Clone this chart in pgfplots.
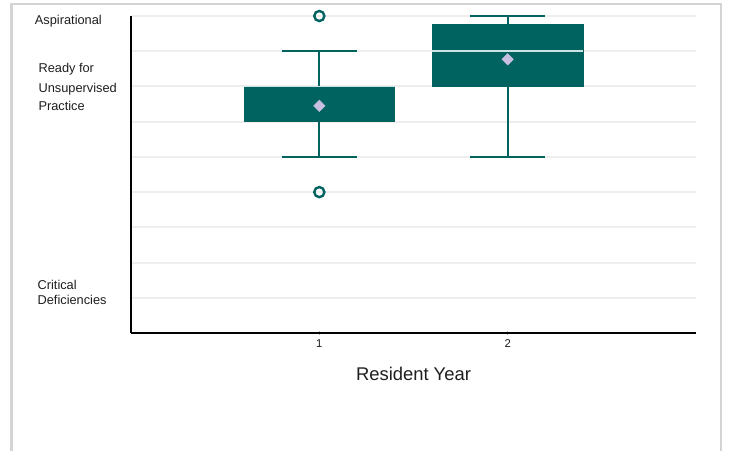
\documentclass[border=0pt]{standalone}
\usepackage{fontspec}
\setmainfont{Liberation Sans}
\usepackage{pgfplots}
\pgfplotsset{compat=1.18}
\usepgfplotslibrary{statistics}
\definecolor{boxc}{RGB}{0,99,96}
\definecolor{meanc}{RGB}{200,192,222}
\definecolor{medc}{RGB}{205,228,228}
\definecolor{gridc}{RGB}{238,238,238}
\definecolor{framec}{RGB}{212,212,212}
\definecolor{txt}{RGB}{30,30,30}
\begin{document}
\begin{tikzpicture}
\useasboundingbox (0,0) rectangle (546.75pt,338.25pt);
% outer frame
\draw[framec, line width=1.6pt] (8.6pt,0pt) -- (8.6pt,335.25pt) -- (540.9pt,335.25pt) -- (540.9pt,0pt);
\begin{axis}[
  at={(98.25pt,88.5pt)}, anchor=south west,
  scale only axis, width=423.75pt, height=237.75pt,
  xmin=0, xmax=3, ymin=0, ymax=9,
  axis lines=left,
  axis line style={-, line width=1.5pt, black},
  xtick={1,2}, ytick={1,2,3,4,5,6,7,8,9}, yticklabels={},
  ytick style={draw=none},
  xtick style={draw=gray!60, line width=0.4pt},
  major tick length=3pt,
  ymajorgrids, grid style={line width=1.5pt, gridc},
  /pgf/number format/assume math mode=true,
  xticklabel style={font=\fontsize{8.5}{10}\selectfont, text=txt},
  xlabel={Resident Year},
  xlabel style={at={(axis description cs:0.5,0)}, anchor=center, yshift=-30.75pt, font=\fontsize{13.8}{16}\selectfont, text=txt},
  clip=false,
  boxplot/draw direction=y,
  boxplot/every box/.style={draw=boxc, fill=boxc, line width=0.5pt},
  boxplot/every whisker/.style={draw=boxc, line width=1.5pt},
  boxplot/every median/.style={draw=medc, line width=1.3pt},
]
\addplot[boxplot prepared={draw position=1, lower whisker=5, lower quartile=6, median=7, upper quartile=7, upper whisker=8, box extend=0.8, whisker extend=0.4}, boxc] coordinates {};
\addplot[boxplot prepared={draw position=2, lower whisker=5, lower quartile=7, median=8, upper quartile=8.75, upper whisker=9, box extend=0.8, whisker extend=0.4}, boxc] coordinates {};
% means
\addplot[only marks, mark=square*, mark size=3pt, mark options={rotate=45, fill=meanc, draw=meanc}] coordinates {(1,6.45) (2,7.77)};
% outliers
\addplot[only marks, mark=o, mark size=3.8pt, mark options={line width=1.8pt, draw=boxc}] coordinates {(1,9) (1,4)};
\end{axis}
% y category labels
\begin{scope}[every node/.style={anchor=base west, inner sep=0pt, font=\fontsize{9.6}{11}\selectfont, text=txt}]
\node at (26.0pt,319.9pt) {Aspirational};
\node at (28.7pt,283.9pt) {Ready for};
\node at (28.7pt,268.9pt) {Unsupervised};
\node at (28.7pt,255.0pt) {Practice};
\node at (28.0pt,121.3pt) {Critical};
\node at (28.0pt,110.25pt) {Deficiencies};
\end{scope}
\end{tikzpicture}
\end{document}
